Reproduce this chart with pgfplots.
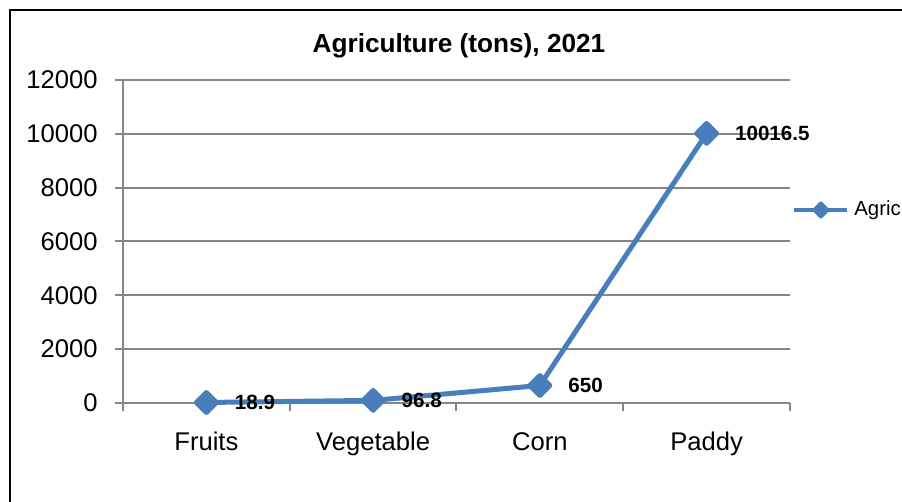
\documentclass[border=0pt]{standalone}
\usepackage{fontspec}
\setmainfont{Liberation Sans}
\usepackage{pgfplots}
\pgfplotsset{compat=1.18}
\definecolor{agric}{RGB}{74,126,187}
\definecolor{gridgray}{RGB}{134,134,134}
\begin{document}
\begin{tikzpicture}
\useasboundingbox (0,0) rectangle (451pt,251pt);
\draw[line width=1pt] (5pt,0pt) -- (5pt,246pt) -- (451pt,246pt);
\node[anchor=base, font=\bfseries\fontsize{13.1}{15}\selectfont] at (229.5pt,224.5pt) {Agriculture (tons), 2021};
\begin{axis}[
  at={(61.5pt,49.5pt)}, anchor=south west,
  scale only axis, width=333.5pt, height=161.5pt,
  xmin=-0.5, xmax=3.5, ymin=0, ymax=12000,
  axis x line=bottom, axis y line=left,
  axis line style={-, draw=gridgray, line width=1pt},
  ytick={0,2000,4000,6000,8000,10000,12000},
  scaled y ticks=false,
  ymajorgrids, grid style={draw=gridgray, line width=1pt},
  xtick={0,1,2,3}, xticklabels={Fruits,Vegetable,Corn,Paddy},
  minor xtick={-0.5,0.5,1.5,2.5,3.5},
  tick align=outside, major tick length=4pt, minor tick length=4pt,
  major x tick style={draw=none},
  tick style={draw=gridgray, line width=1pt},
  /pgf/number format/1000 sep={},
  /pgf/number format/assume math mode=true,
  tick label style={font=\fontsize{12.8}{15}\selectfont, text=black},
  xticklabel style={anchor=base, inner sep=0pt, yshift=-20pt},
  yticklabel style={anchor=east, inner sep=0pt, xshift=-8.5pt},
  legend entries={Agric},
  legend style={at={(1,0.5975)}, anchor=west, xshift=1pt, draw=none, fill=none,
    inner sep=0pt, nodes={inner sep=0pt}, font=\fontsize{10.2}{12}\selectfont,
    /tikz/every odd column/.append style={column sep=2.5pt}},
  legend cell align=left,
  legend image code/.code={\draw[#1, mark size=2.3pt, line width=2pt, mark repeat=2, mark phase=2] plot coordinates {(0pt,0pt) (13.25pt,0pt) (26.5pt,0pt)};},
  clip=false,
]
\addplot[color=agric, line width=2.5pt, line join=round, mark=square*, mark size=3.5pt,
  mark options={rotate=45, solid, fill=agric},
  nodes near coords, point meta=explicit symbolic,
  nodes near coords style={anchor=west, xshift=13pt, inner sep=0pt, text=black,
    font=\bfseries\fontsize{10.3}{12}\selectfont}]
  coordinates {(0,18.9)[18.9] (1,96.8)[96.8] (2,650)[650] (3,10016.5)[10016.5]};
\end{axis}
\end{tikzpicture}
\end{document}
